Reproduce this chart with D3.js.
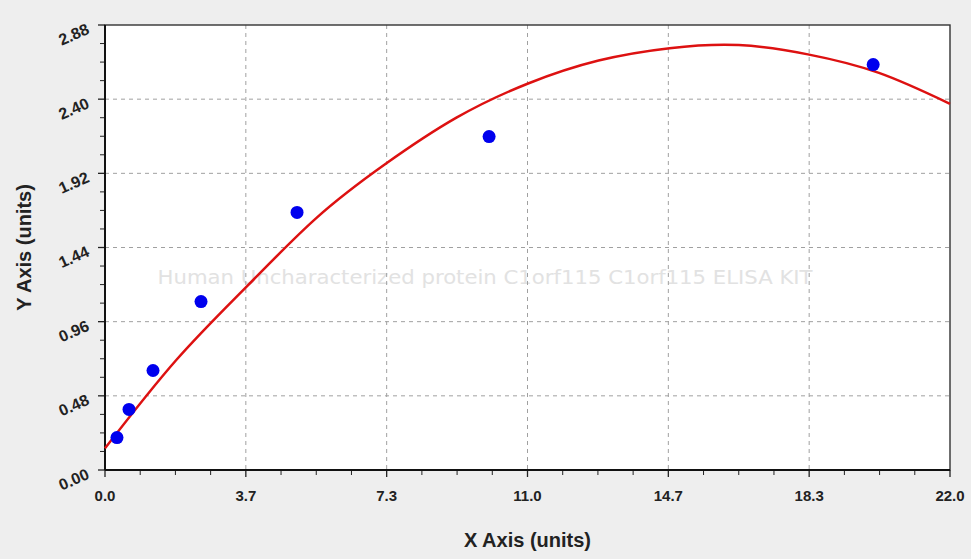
<!DOCTYPE html>
<html>
<head>
<meta charset="utf-8">
<script src="https://cdn.jsdelivr.net/npm/d3@7"></script>
<style>
  body { margin: 0; background: #eeeeee; }
  svg { display: block; }
</style>
</head>
<body>
<div id="chart"></div>
<script>
// measured standards
const concentrations = [0.312, 0.625, 1.25, 2.5, 5, 10, 20];
const odValues = [0.21, 0.392, 0.644, 1.09, 1.667, 2.158, 2.624];

// fitted curve
const curveX = [0, 1.85, 3.7, 5.5, 7.3, 9.15, 11, 12.85, 14.7, 16.5, 18.3, 20.15, 22];
const curveY = [0.14, 0.71, 1.19, 1.63, 1.98, 2.28, 2.5, 2.65, 2.73, 2.75, 2.69, 2.57, 2.37];

const xTicks = [0, 22 / 6, 44 / 6, 11, 88 / 6, 110 / 6, 22];
const xTickLabels = ['0.0', '3.7', '7.3', '11.0', '14.7', '18.3', '22.0'];
const yTicks = [0, 0.48, 0.96, 1.44, 1.92, 2.40, 2.88];
const yTickLabels = ['0.00', '0.48', '0.96', '1.44', '1.92', '2.40', '2.88'];

const watermark = 'Human Uncharacterized protein C1orf115 C1orf115 ELISA KIT';

const W = 971, H = 559;
const margin = {t: 25, r: 21, b: 89, l: 105};
const width = W - margin.l - margin.r;
const height = H - margin.t - margin.b;

const svg = d3.select('#chart').append('svg').attr('width', W).attr('height', H);
svg.append('rect').attr('width', W).attr('height', H).attr('fill', '#eeeeee');

const g = svg.append('g').attr('transform', `translate(${margin.l},${margin.t})`);

const xScale = d3.scaleLinear().domain([0, 22]).range([0, width]);
const yScale = d3.scaleLinear().domain([0, 2.88]).range([height, 0]);

g.append('rect').attr('width', width).attr('height', height).attr('fill', '#ffffff');

//watermark
g.append('text')
  .attr('x', 380).attr('y', 259)
  .attr('text-anchor', 'middle')
  .attr('textLength', 655).attr('lengthAdjust', 'spacingAndGlyphs')
  .style('font-family', '"DejaVu Sans", sans-serif').style('font-size', '19px')
  .style('fill', '#e2e2e2')
  .text(watermark);

//grid
g.append('g').selectAll('line').data(xTicks.slice(1, -1)).join('line')
  .attr('x1', d => xScale(d)).attr('x2', d => xScale(d))
  .attr('y1', 0).attr('y2', height)
  .attr('stroke', '#a0a0a0').attr('stroke-dasharray', '4 4');
g.append('g').selectAll('line').data(yTicks.slice(1, -1)).join('line')
  .attr('y1', d => yScale(d)).attr('y2', d => yScale(d))
  .attr('x1', 0).attr('x2', width)
  .attr('stroke', '#a0a0a0').attr('stroke-dasharray', '4 4');

//minor ticks
const xMinor = d3.range(0, 25).map(i => i * 22 / 24).filter((d, i) => i % 4 !== 0);
const yMinor = d3.range(0, 25).map(i => i * 0.12).filter((d, i) => i % 4 !== 0);

const xAxis = g.append('g').attr('transform', `translate(0,${height})`);
xAxis.selectAll('.minor').data(xMinor).join('line')
  .attr('x1', d => xScale(d)).attr('x2', d => xScale(d))
  .attr('y1', 0).attr('y2', 5).attr('stroke', '#222');
xAxis.selectAll('.major').data(xTicks).join('line')
  .attr('x1', d => xScale(d)).attr('x2', d => xScale(d))
  .attr('y1', 0).attr('y2', 7).attr('stroke', '#222').attr('stroke-width', 1.3);
xAxis.selectAll('text').data(xTicks).join('text')
  .attr('x', d => xScale(d)).attr('y', 31)
  .attr('text-anchor', 'middle')
  .style('font-family', '"Liberation Sans", Arial, sans-serif')
  .style('font-weight', 'bold').style('font-size', '15px').style('fill', '#222')
  .text((d, i) => xTickLabels[i]);

const yAxis = g.append('g');
yAxis.selectAll('.minor').data(yMinor).join('line')
  .attr('y1', d => yScale(d)).attr('y2', d => yScale(d))
  .attr('x1', 0).attr('x2', -5).attr('stroke', '#222');
yAxis.selectAll('.major').data(yTicks).join('line')
  .attr('y1', d => yScale(d)).attr('y2', d => yScale(d))
  .attr('x1', 0).attr('x2', -7).attr('stroke', '#222').attr('stroke-width', 1.3);
yAxis.selectAll('text').data(yTicks).join('text')
  .attr('transform', d => `translate(-17,${yScale(d) + 3}) rotate(-24)`)
  .attr('text-anchor', 'end').attr('dy', '0.35em')
  .style('font-family', '"Liberation Sans", Arial, sans-serif')
  .style('font-weight', 'bold').style('font-size', '16px').style('fill', '#222')
  .text((d, i) => yTickLabels[i]);

//frame
g.append('rect').attr('width', width).attr('height', height)
  .attr('fill', 'none').attr('stroke', '#333').attr('stroke-width', 1.4);
g.append('line').attr('x1', 0).attr('x2', 0).attr('y1', 0).attr('y2', height)
  .attr('stroke', '#111').attr('stroke-width', 2);
g.append('line').attr('x1', 0).attr('x2', width).attr('y1', height).attr('y2', height)
  .attr('stroke', '#111').attr('stroke-width', 2);

//fitted curve
const curveData = curveX.map((x, i) => ({x, y: curveY[i]}));
g.append('path').datum(curveData)
  .attr('d', d3.line().x(d => xScale(d.x)).y(d => yScale(d.y)).curve(d3.curveNatural))
  .attr('fill', 'none').attr('stroke', '#dd1111').attr('stroke-width', 2.5);

//points
g.append('g').selectAll('circle').data(concentrations).join('circle')
  .attr('cx', d => xScale(d)).attr('cy', (d, i) => yScale(odValues[i]))
  .attr('r', 6.5).attr('fill', '#0000ee');

//axis titles
svg.append('text')
  .attr('transform', `translate(31,${margin.t + height / 2}) rotate(-90)`)
  .attr('text-anchor', 'middle')
  .style('font-family', '"Liberation Sans", Arial, sans-serif')
  .style('font-weight', 'bold').style('font-size', '20px').style('fill', '#222')
  .text('Y Axis (units)');
svg.append('text')
  .attr('x', margin.l + width / 2).attr('y', 547)
  .attr('text-anchor', 'middle')
  .style('font-family', '"Liberation Sans", Arial, sans-serif')
  .style('font-weight', 'bold').style('font-size', '20px').style('fill', '#222')
  .text('X Axis (units)');
</script>
</body>
</html>
